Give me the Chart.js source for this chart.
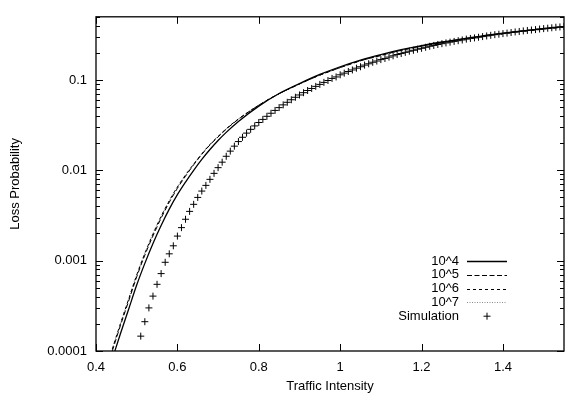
<!DOCTYPE html>
<html>
<head>
<meta charset="utf-8">
<script src="https://cdn.jsdelivr.net/npm/chart.js@4.4.1/dist/chart.umd.min.js"></script>
<style>
  body { margin: 0; background: #fff; }
</style>
</head>
<body>
<canvas id="chart" width="569" height="396"></canvas>
<script>
'use strict'

const ctx = document.getElementById('chart')

// analytic curves, sampled at these traffic intensities
const curveX = [0.44, 0.46, 0.48, 0.50, 0.52, 0.54, 0.56, 0.58, 0.60, 0.62, 0.64, 0.66,
  0.68, 0.70, 0.72, 0.75, 0.80, 0.85, 0.90, 0.95, 1.00, 1.05, 1.10, 1.15, 1.20, 1.25,
  1.30, 1.35, 1.40, 1.45, 1.50, 1.55]

const loss1e4 = [8.13e-5, 1.55e-4, 2.88e-4, 5.37e-4, 9.33e-4, 1.55e-3, 2.45e-3, 3.72e-3,
  5.37e-3, 7.41e-3, 0.0100, 0.0132, 0.0170, 0.0214, 0.0263, 0.0347, 0.0513, 0.0708,
  0.0912, 0.115, 0.140, 0.166, 0.191, 0.216, 0.240, 0.263, 0.285, 0.308, 0.329, 0.349,
  0.369, 0.389]
const loss1e5 = [1.00e-4, 1.91e-4, 3.55e-4, 6.61e-4, 1.15e-3, 1.88e-3, 2.95e-3, 4.42e-3,
  6.31e-3, 8.61e-3, 0.0115, 0.0150, 0.0191, 0.0234, 0.0285, 0.0367, 0.0525, 0.0705,
  0.0902, 0.113, 0.137, 0.163, 0.187, 0.213, 0.237, 0.260, 0.282, 0.305, 0.326, 0.347,
  0.366, 0.386]
const loss1e6 = [1.05e-4, 2.00e-4, 3.72e-4, 6.92e-4, 1.20e-3, 1.97e-3, 3.09e-3, 4.59e-3,
  6.53e-3, 8.87e-3, 0.0117, 0.0152, 0.0193, 0.0237, 0.0288, 0.0370, 0.0526, 0.0705,
  0.0902, 0.113, 0.137, 0.163, 0.187, 0.213, 0.237, 0.260, 0.282, 0.305, 0.326, 0.347,
  0.366, 0.386]
const loss1e7 = [1.06e-4, 2.02e-4, 3.76e-4, 7.00e-4, 1.22e-3, 2.00e-3, 3.12e-3, 4.62e-3,
  6.58e-3, 8.91e-3, 0.0118, 0.0153, 0.0194, 0.0238, 0.0288, 0.0371, 0.0526, 0.0705,
  0.0902, 0.113, 0.137, 0.163, 0.187, 0.213, 0.237, 0.260, 0.282, 0.305, 0.326, 0.347,
  0.366, 0.386]

// simulation results
const simX = [0.51, 0.52, 0.53, 0.54, 0.55, 0.56, 0.57, 0.58, 0.59, 0.60,
  0.61, 0.62, 0.63, 0.64, 0.65, 0.66, 0.67, 0.68, 0.69, 0.70,
  0.71, 0.72, 0.73, 0.74, 0.75, 0.76, 0.77, 0.78, 0.79, 0.80,
  0.81, 0.82, 0.83, 0.84, 0.85, 0.86, 0.87, 0.88, 0.89, 0.90,
  0.91, 0.92, 0.93, 0.94, 0.95, 0.96, 0.97, 0.98, 0.99, 1.00,
  1.01, 1.02, 1.03, 1.04, 1.05, 1.06, 1.07, 1.08, 1.09, 1.10,
  1.11, 1.12, 1.13, 1.14, 1.15, 1.16, 1.17, 1.18, 1.19, 1.20,
  1.21, 1.22, 1.23, 1.24, 1.25, 1.26, 1.27, 1.28, 1.29, 1.30,
  1.31, 1.32, 1.33, 1.34, 1.35, 1.36, 1.37, 1.38, 1.39, 1.40,
  1.41, 1.42, 1.43, 1.44, 1.45, 1.46, 1.47, 1.48, 1.49, 1.50,
  1.51, 1.52, 1.53, 1.54, 1.55]
const simLoss = [1.46e-4, 2.11e-4, 3.00e-4, 4.05e-4, 5.47e-4, 7.19e-4, 9.59e-4, 1.19e-3, 1.46e-3, 1.87e-3,
  2.32e-3, 2.87e-3, 3.51e-3, 4.20e-3, 5.01e-3, 5.89e-3, 6.81e-3, 7.94e-3, 9.25e-3, 0.0107,
  0.0123, 0.0143, 0.0163, 0.0185, 0.0208, 0.0232, 0.0258, 0.0284, 0.0310, 0.0338,
  0.0366, 0.0396, 0.0428, 0.0460, 0.0494, 0.0530, 0.0566, 0.0604, 0.0643, 0.0682,
  0.0723, 0.0764, 0.0805, 0.0849, 0.0893, 0.0940, 0.0986, 0.104, 0.108, 0.114,
  0.119, 0.124, 0.129, 0.135, 0.140, 0.146, 0.151, 0.157, 0.162, 0.168,
  0.173, 0.179, 0.185, 0.191, 0.196, 0.202, 0.208, 0.213, 0.219, 0.224,
  0.230, 0.236, 0.241, 0.247, 0.252, 0.257, 0.262, 0.267, 0.272, 0.277,
  0.283, 0.288, 0.292, 0.297, 0.302, 0.307, 0.312, 0.317, 0.321, 0.326,
  0.330, 0.335, 0.340, 0.344, 0.349, 0.353, 0.357, 0.361, 0.366, 0.370,
  0.374, 0.378, 0.383, 0.386, 0.390]

const xTicks = [0.4, 0.6, 0.8, 1.0, 1.2, 1.4]
const xTickLabels = ['0.4', '0.6', '0.8', '1', '1.2', '1.4']
const yTicks = [0.0001, 0.001, 0.01, 0.1]
const yTickLabels = ['0.0001', '0.001', '0.01', '0.1']

const FONT = "'Liberation Sans', Arial, Helvetica, sans-serif"
Chart.defaults.font.family = FONT
Chart.defaults.font.size = 13
Chart.defaults.color = '#000'

const pts = (xs, ys) => xs.map((x, i) => ({ x: x, y: ys[i] }))

const curve = (label, ys, dash, color, width) => ({
  label: label,
  data: pts(curveX, ys),
  showLine: true,
  borderColor: color,
  borderWidth: width,
  borderDash: dash,
  pointRadius: 0,
  cubicInterpolationMode: 'monotone',
})

const data = {
  datasets: [
    curve('10^4', loss1e4, [], '#000', 1.3),
    curve('10^5', loss1e5, [5, 2.5], '#000', 1),
    curve('10^6', loss1e6, [3, 3], '#000', 1),
    curve('10^7', loss1e7, [1, 1.5], '#8a8a8a', 1),
    {
      label: 'Simulation',
      data: pts(simX, simLoss),
      showLine: false,
      pointStyle: 'cross',
      pointRadius: 3.5,
      pointBorderWidth: 1,
      borderColor: '#000',
      backgroundColor: '#000',
    },
  ]
}

// gnuplot-like frame with inward ticks
const frameTicks = {
  id: 'frameTicks',
  afterDatasetsDraw(chart) {
    const { ctx, chartArea: a, scales: { x, y } } = chart
    ctx.save()
    ctx.strokeStyle = '#000'
    ctx.lineWidth = 1
    ctx.beginPath()
    xTicks.forEach(v => {
      const px = Math.round(x.getPixelForValue(v)) + 0.5
      ctx.moveTo(px, a.bottom); ctx.lineTo(px, a.bottom - 7)
      ctx.moveTo(px, a.top); ctx.lineTo(px, a.top + 7)
    })
    yTicks.forEach(d => {
      for (let m = 1; m < 10; m++) {
        const v = m * d
        if (v > y.max) break
        const py = Math.round(y.getPixelForValue(v)) + 0.5
        const len = m === 1 ? 7 : 4
        ctx.moveTo(a.left, py); ctx.lineTo(a.left + len, py)
        ctx.moveTo(a.right, py); ctx.lineTo(a.right - len, py)
      }
    })
    ctx.stroke()
    ctx.lineWidth = 1.3
    ctx.strokeRect(a.left, a.top, a.right - a.left, a.bottom - a.top)
    ctx.restore()
  }
}

// key in the lower right corner, gnuplot style
const keyBox = {
  id: 'keyBox',
  afterDraw(chart) {
    const ctx = chart.ctx
    ctx.save()
    ctx.font = '13px ' + FONT
    ctx.textAlign = 'right'
    ctx.textBaseline = 'middle'
    chart.data.datasets.forEach((ds, i) => {
      const yy = 261 + i * 13.8
      ctx.fillStyle = '#000'
      ctx.fillText(ds.label, 459, yy)
      ctx.strokeStyle = ds.borderColor
      if (ds.showLine) {
        ctx.lineWidth = ds.borderWidth
        ctx.setLineDash(ds.borderDash)
        ctx.beginPath()
        ctx.moveTo(467, Math.round(yy) + 0.5)
        ctx.lineTo(507, Math.round(yy) + 0.5)
        ctx.stroke()
        ctx.setLineDash([])
      } else {
        const r = ds.pointRadius
        ctx.lineWidth = 1
        ctx.beginPath()
        ctx.moveTo(487 - r, yy); ctx.lineTo(487 + r, yy)
        ctx.moveTo(487, yy - r); ctx.lineTo(487, yy + r)
        ctx.stroke()
      }
    })
    ctx.restore()
  }
}

const options = {
  responsive: false,
  animation: false,
  layout: { padding: { top: 11, right: 0, bottom: 0, left: 0 } },
  plugins: {
    legend: { display: false },
    tooltip: { enabled: false },
  },
  scales: {
    x: {
      type: 'linear',
      min: 0.4,
      max: 1.55,
      grid: { display: false, drawTicks: false },
      border: { display: false },
      afterBuildTicks: axis => { axis.ticks = xTicks.map(v => ({ value: v })) },
      afterFit: axis => { axis.height = 45 },
      ticks: {
        padding: 9,
        maxRotation: 0,
        callback: (value, index) => xTickLabels[index],
      },
      title: {
        display: true,
        text: 'Traffic Intensity',
        padding: { top: 0, bottom: 2 },
      },
    },
    y: {
      type: 'logarithmic',
      min: 0.0001,
      max: 0.5,
      grid: { display: false, drawTicks: false },
      border: { display: false },
      afterBuildTicks: axis => { axis.ticks = yTicks.map(v => ({ value: v })) },
      afterFit: axis => { axis.width = 96 },
      ticks: {
        padding: 9,
        callback: (value, index) => yTickLabels[index],
      },
      title: {
        display: true,
        text: 'Loss Probability',
        padding: { top: 8, bottom: 0 },
      },
    },
  },
}

const chart = new Chart(ctx, {
  type: 'line',
  data: data,
  options: options,
  plugins: [frameTicks, keyBox],
})
</script>
</body>
</html>
